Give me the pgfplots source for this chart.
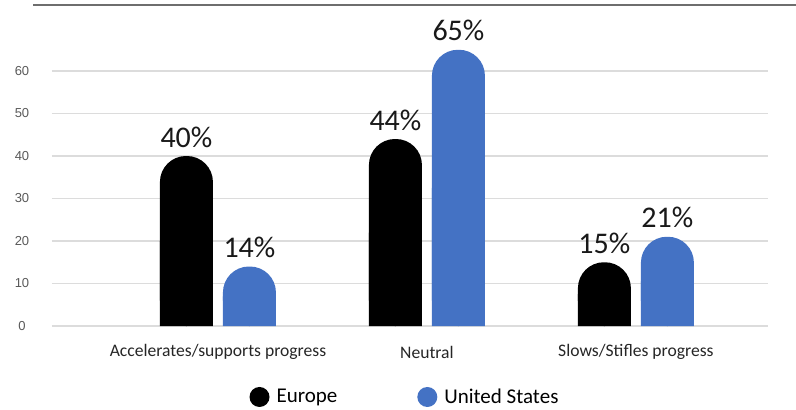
\documentclass[border=0pt]{standalone}
\usepackage{pgfplots}
\pgfplotsset{compat=1.18}
\usepackage{pgfplotstable}
\usepackage{fontspec}
\setmainfont{Carlito}
\newfontfamily\tickfont{Liberation Sans}
\definecolor{usblue}{HTML}{4472C4}
\definecolor{gridgray}{HTML}{DCDCDC}
\definecolor{topline}{HTML}{6E6E6E}
\pgfplotstableread{
x eu us
0 40 14
1 44 65
2 15 21
}\data
\begin{document}
\begin{tikzpicture}
\useasboundingbox (0,0) rectangle (796pt,410pt);
\draw[topline, line width=1.6pt] (33pt,405pt) -- (796pt,405pt);
\begin{axis}[
  at={(52pt,84pt)}, anchor=south west,
  scale only axis, width=716pt, height=306pt,
  xmin=-0.794, xmax=2.632, ymin=0, ymax=72,
  ytick={0,10,...,60}, xtick={0,1,2},
  xticklabels={Accelerates/supports progress, Neutral, Slows/Stifles progress},
  ymajorgrids, grid style={gridgray, line width=1.3pt},
  axis line style={draw=none}, major tick length=0pt,
  /pgf/number format/assume math mode=true,
  yticklabel style={font=\tickfont\fontsize{13}{13}\selectfont, text=black!65, anchor=center, xshift=-30pt},
  xticklabel style={font=\fontsize{17.6}{17.6}\selectfont, text=black!85, anchor=center, yshift=-26pt},
  clip=false,
  legend columns=2,
  legend style={at={(0.493,-0.232)}, anchor=center, draw=none, font=\fontsize{21}{21}\selectfont,
    /tikz/every even column/.append style={column sep=78pt}},
  legend image code/.code={\fill[#1] (0pt,0pt) circle (10pt); \path (15pt,0pt);},
]
\addplot[ybar, bar width=53pt, bar shift=-31.5pt, fill=black, draw=none, rounded corners=26pt,
  nodes near coords={\pgfmathprintnumber{\pgfplotspointmeta}\%},
  every node near coord/.append style={font=\fontsize{30}{30}\selectfont, text=black!90, anchor=south, xshift=-31.5pt, yshift=5pt}]
  table[x=x,y=eu]{\data};
\addplot[ybar, bar width=53pt, bar shift=31.5pt, fill=usblue, draw=none, rounded corners=26pt,
  nodes near coords={\pgfmathprintnumber{\pgfplotspointmeta}\%},
  every node near coord/.append style={font=\fontsize{30}{30}\selectfont, text=black!90, anchor=south, xshift=31.5pt, yshift=5pt}]
  table[x=x,y=us]{\data};
\addplot[ybar, bar width=53pt, bar shift=-31.5pt, fill=black, draw=none, forget plot]
  table[x=x, y expr=\thisrow{eu}/2]{\data};
\addplot[ybar, bar width=53pt, bar shift=31.5pt, fill=usblue, draw=none, forget plot]
  table[x=x, y expr=\thisrow{us}/2]{\data};
\legend{Europe, United States}
\end{axis}
\end{tikzpicture}
\end{document}
